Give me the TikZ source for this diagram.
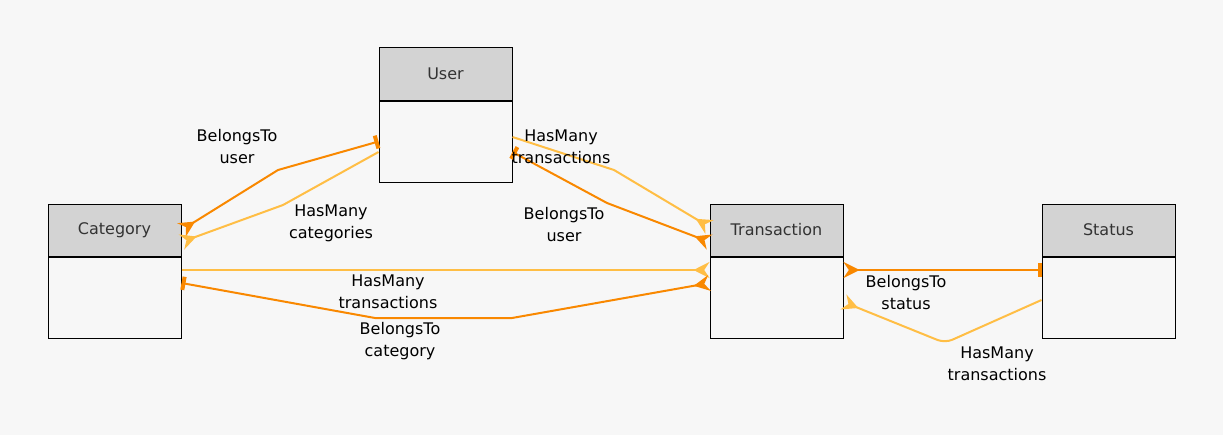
\documentclass[tikz,border=0pt]{standalone}
\usepackage{fontspec}
\setmainfont{DejaVu Sans}
\usetikzlibrary{arrows.meta,positioning}
\definecolor{bgcol}{HTML}{F7F7F7}
\definecolor{headcol}{HTML}{D3D3D3}
\definecolor{belongscol}{HTML}{F98800}
\definecolor{hasmanycol}{HTML}{FFBE45}
\tikzset{
  enthead/.style={draw=black, line width=0.75pt, fill=headcol, minimum width=99.75pt,
    minimum height=39pt, inner sep=0pt, text=black!80, font=\fontsize{12}{14}\selectfont},
  entbody/.style={draw=black, line width=0.75pt, fill=bgcol, minimum width=99.75pt,
    minimum height=60.75pt, inner sep=0pt},
  belongs/.style={draw=belongscol, line width=1.5pt},
  hasmany/.style={draw=hasmanycol, line width=1.5pt},
  lbl/.style={align=center, inner sep=0pt, font=\fontsize{12}{16.5}\selectfont},
  crow/.tip={Stealth[reversed, length=12pt, width=12pt, inset=4pt]},
  one/.tip={Bar[width=10pt, line width=3pt]}
}

\begin{document}
\begin{tikzpicture}[x=0.75pt, y=-0.75pt]
  \fill[bgcol] (0,0) rectangle (1223,435);

  % entities
  \node[enthead] (user) at (445.5,74) {User};
  \node[entbody, below=0pt of user] (userbody) {};
  \node[enthead] (cat) at (114.5,230) {Category};
  \node[entbody, below=0pt of cat] (catbody) {};
  \node[enthead] (trans) at (776.5,230) {Transaction};
  \node[entbody, below=0pt of trans] (transbody) {};
  \node[enthead] (status) at (1108.5,230) {Status};
  \node[entbody, below=0pt of status] (statusbody) {};

  % relations
  \draw[belongs, crow-one] (cat.east) -- (278,170) -- (userbody.west);
  \draw[hasmany, -crow] (userbody.west |- 0,152) -- (283,205) -- (cat.east |- 0,242);
  \draw[hasmany, -crow] (userbody.east |- 0,137) -- (614,170) -- (trans.west |- 0,227);
  \draw[belongs, one-crow] (userbody.east |- 0,152) -- (607,203) -- (trans.west |- 0,242);
  \draw[hasmany, -crow] (catbody.east |- 0,270) -- (transbody.west |- 0,270);
  \draw[belongs, one-crow] (catbody.east |- 0,283) -- (375,318) -- (512,318) -- (transbody.west |- 0,283);
  \draw[belongs, crow-one] (transbody.east |- 0,270) -- (statusbody.west |- 0,270);
  \draw[hasmany, -crow, rounded corners=6pt] (statusbody.west |- 0,300) -- (945,343) -- (transbody.east |- 0,302);

  % labels
  \node[lbl] (catuser) at (237,147) {BelongsTo\\user};
  \node[lbl] (usercats) at (331,223) {HasMany\\categories};
  \node[lbl] (usertrans) at (561,147) {HasMany\\transactions};
  \node[lbl] (transuser) at (564,225) {BelongsTo\\user};
  \node[lbl] (cattrans) at (388,292) {HasMany\\transactions};
  \node[lbl] (transcat) at (400,341) {BelongsTo\\category};
  \node[lbl] (transstatus) at (906,293) {BelongsTo\\status};
  \node[lbl] (statustrans) at (997,364) {HasMany\\transactions};
\end{tikzpicture}
\end{document}
